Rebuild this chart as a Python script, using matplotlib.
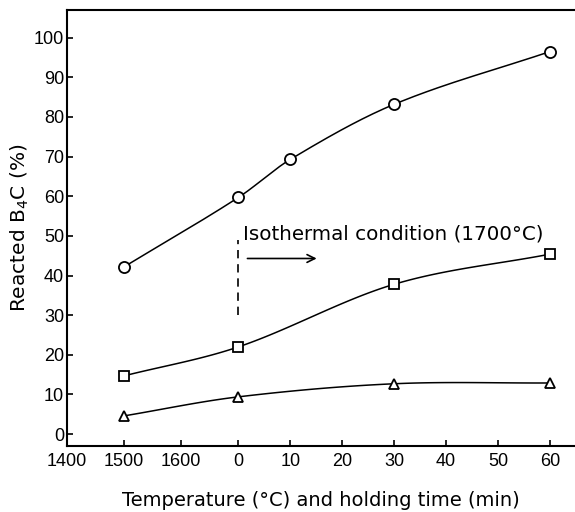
import numpy as np
import matplotlib
matplotlib.use("Agg")
import matplotlib.pyplot as plt

plt.rcParams['font.family'] = ['Liberation Sans', 'DejaVu Sans']

# Tick labels along the x axis (temperature ramp, then holding time)
tick_labels = ['1400', '1500', '1600', '0', '10', '20', '30', '40', '50', '60']
tick_pos = [-33, -22, -11, 0, 10, 20, 30, 40, 50, 60]

# x positions of the measurements (1500 C on ramp, then holding times in min)
x_pts = [-22, 0, 10, 30, 60]
circle_y = [42.2, 59.7, 69.3, 83.2, 96.5]

x_pts2 = [-22, 0, 30, 60]
square_y = [14.7, 22.0, 37.8, 45.4]
triangle_y = [4.6, 9.4, 12.7, 12.9]


def smooth(x, y, n=40):
    """Hermite curve through the points, for drawing only."""
    x = np.asarray(x, float)
    y = np.asarray(y, float)
    m = np.zeros_like(y)
    for i in range(len(x)):
        if i == 0:
            m[i] = (y[1] - y[0]) / (x[1] - x[0])
        elif i == len(x) - 1:
            m[i] = (y[-1] - y[-2]) / (x[-1] - x[-2])
        else:
            m[i] = (y[i + 1] - y[i - 1]) / (x[i + 1] - x[i - 1])
    xs, ys = [], []
    for i in range(len(x) - 1):
        h = x[i + 1] - x[i]
        t = np.linspace(0, 1, n)
        h00 = 2 * t**3 - 3 * t**2 + 1
        h10 = t**3 - 2 * t**2 + t
        h01 = -2 * t**3 + 3 * t**2
        h11 = t**3 - t**2
        xs.append(x[i] + t * h)
        ys.append(h00 * y[i] + h10 * h * m[i] + h01 * y[i + 1] + h11 * h * m[i + 1])
    return np.concatenate(xs), np.concatenate(ys)


fig = plt.figure(figsize=(5.75, 5.12), dpi=100)
ax = fig.add_axes([0.1165, 0.1289, 0.8835, 0.8525])

lw = 1.1
for xx, yy, mk, ms in [(x_pts, circle_y, 'o', 8),
                       (x_pts2, square_y, 's', 7.2),
                       (x_pts2, triangle_y, '^', 7.5)]:
    sx, sy = smooth(xx, yy)
    ax.plot(sx, sy, color='black', lw=lw, zorder=2)
    ax.plot(xx, yy, linestyle='none', marker=mk, ms=ms, mfc='white',
            mec='black', mew=1.3, zorder=3)

# Isothermal annotation
ax.plot([0, 0], [30, 49], color='black', lw=1.2, linestyle=(0, (5, 3.5)))
ax.annotate('', xy=(15.6, 44.3), xytext=(1.2, 44.3),
            arrowprops=dict(arrowstyle='->', color='black', lw=1.2,
                            mutation_scale=14))
ax.text(0.9, 50.6, 'Isothermal condition (1700\u00b0C)', fontsize=14.3,
        family='DejaVu Sans', ha='left', va='center')

ax.set_xlim(-33, 64.8)
ax.set_ylim(-3, 107.1)
ax.set_xticks(tick_pos)
ax.set_xticklabels(tick_labels)
ax.set_yticks(np.arange(0, 101, 10))

ax.tick_params(direction='in', length=4, width=1.2, labelsize=13,
               top=False, right=False, pad=5)
ax.tick_params(axis='y', pad=2)
for s in ['left', 'bottom', 'top']:
    ax.spines[s].set_linewidth(1.5)
ax.spines['right'].set_visible(False)

ax.set_ylabel('Reacted B$_4$C (%)', fontsize=14.5, family='DejaVu Sans',
              labelpad=2)
ax.set_xlabel('Temperature (\u00b0C) and holding time (min)', fontsize=14,
              family='DejaVu Sans', labelpad=15)

fig.savefig('out.png', dpi=100)
